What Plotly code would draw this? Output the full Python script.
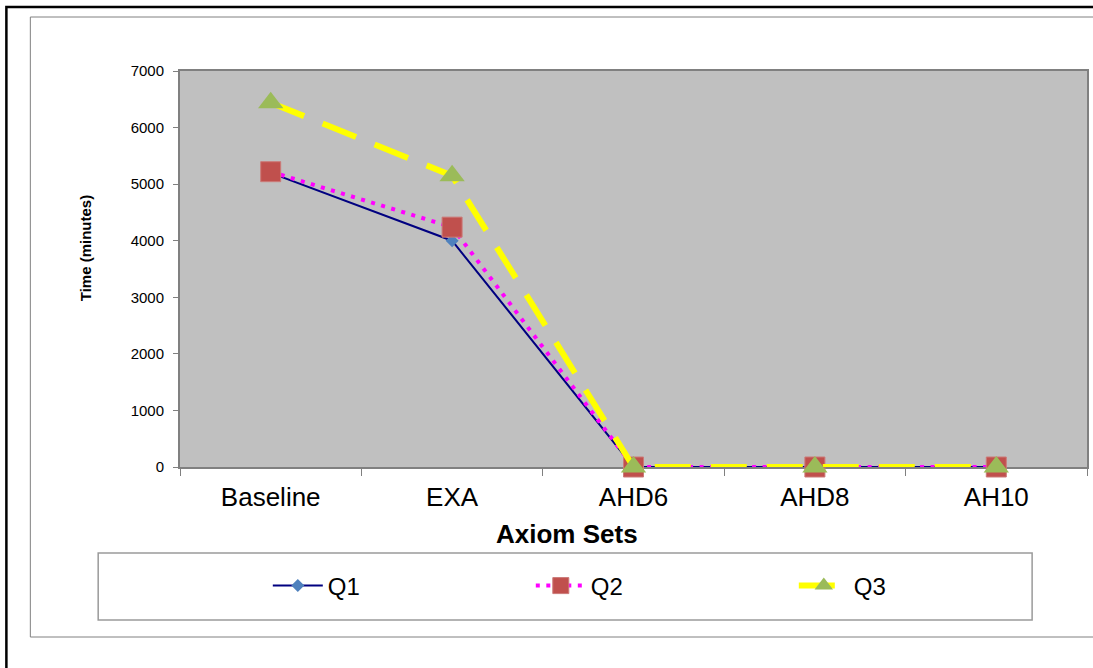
import plotly.graph_objects as go

categories = ["Baseline", "EXA", "AHD6", "AHD8", "AH10"]
q1 = [5200, 4000, 0, 0, 0]
q2 = [5220, 4240, 0, 0, 0]
q3 = [6440, 5150, 0, 0, 0]
y_ticks = [0, 1000, 2000, 3000, 4000, 5000, 6000, 7000]

W, H = 1093, 668
ML, MR, MT, MB = 180, 4, 71, 201
PW, PH = W - ML - MR, H - MT - MB


def px_x(p):
    return (p - ML) / PW


def px_y(p):
    return (H - MB - p) / PH


FONT = "Liberation Sans, Arial, sans-serif"

fig = go.Figure()
fig.add_trace(go.Scatter(
    x=categories, y=q1, name="Q1", mode="lines+markers", cliponaxis=False,
    line=dict(color="#000080", width=2),
    marker=dict(symbol="diamond", size=10, color="#4F81BD"),
))
fig.add_trace(go.Scatter(
    x=categories, y=q2, name="Q2", mode="lines+markers", cliponaxis=False,
    line=dict(color="#FF00FF", width=4, dash="4px,6.5px"),
    marker=dict(symbol="square", size=20, color="#C0504D",
                line=dict(color="#CC7A78", width=1)),
))
fig.add_trace(go.Scatter(
    x=categories, y=q3, name="Q3", mode="lines+markers", cliponaxis=False,
    line=dict(color="#FFFF00", width=6, dash="36px,20px"),
    marker=dict(symbol="triangle-up", size=22, color="#9BBB59"),
))

shapes = [
    # outer black frame
    dict(type="rect", xref="paper", yref="paper",
         x0=px_x(6), x1=px_x(1120), y0=px_y(700), y1=px_y(7),
         line=dict(color="black", width=2.5), fillcolor="rgba(0,0,0,0)", layer="below"),
    # inner chart-area frame
    dict(type="rect", xref="paper", yref="paper",
         x0=px_x(30), x1=px_x(1120), y0=px_y(637), y1=px_y(17),
         line=dict(color="#808080", width=1), fillcolor="rgba(0,0,0,0)", layer="below"),
    # legend box
    dict(type="rect", xref="paper", yref="paper",
         x0=px_x(98), x1=px_x(1034), y0=px_y(620), y1=px_y(553),
         line=dict(color="#9A9A9A", width=1.5), fillcolor="white", layer="below"),
]

annotations = [
    dict(text="<b>Axiom Sets</b>", xref="paper", yref="paper",
         x=px_x(568), y=px_y(534), xanchor="center", yanchor="middle",
         showarrow=False, font=dict(family=FONT, size=26, color="black")),
    dict(text="<b>Time (minutes)</b>", xref="paper", yref="paper",
         x=px_x(85), y=px_y(248), xanchor="center", yanchor="middle",
         textangle=-90, showarrow=False,
         font=dict(family=FONT, size=15, color="black")),
]

fig.update_layout(
    width=W, height=H,
    margin=dict(l=ML, r=MR, t=MT, b=MB, pad=0),
    paper_bgcolor="white", plot_bgcolor="#C0C0C0",
    font=dict(family=FONT, color="black"),
    shapes=shapes, annotations=annotations,
    showlegend=True,
    legend=dict(
        orientation="h", x=px_x(268), y=px_y(586),
        xanchor="left", yanchor="middle",
        bgcolor="rgba(0,0,0,0)", borderwidth=0,
        font=dict(family=FONT, size=24, color="black"),
        itemwidth=50,
        entrywidth=198, entrywidthmode="pixels",
        traceorder="normal",
    ),
    xaxis=dict(
        type="category", categoryorder="array", categoryarray=categories,
        range=[-0.5, len(categories) - 0.5],
        showline=True, mirror=True, linecolor="#808080", linewidth=2,
        ticks="outside", tickson="boundaries", ticklen=7, tickcolor="#808080",
        tickwidth=1, showgrid=False, zeroline=False, layer="below traces",
        tickfont=dict(family=FONT, size=26, color="black"),
        ticklabelstandoff=6,
    ),
    yaxis=dict(
        range=[0, 7000], tickvals=y_ticks,
        showline=True, mirror=True, linecolor="#808080", linewidth=2,
        ticks="outside", ticklen=5, tickcolor="#808080", tickwidth=1,
        showgrid=False, zeroline=False, layer="below traces",
        tickfont=dict(family=FONT, size=15, color="black"),
        ticklabelstandoff=6,
    ),
)

fig.write_html("out.html")
